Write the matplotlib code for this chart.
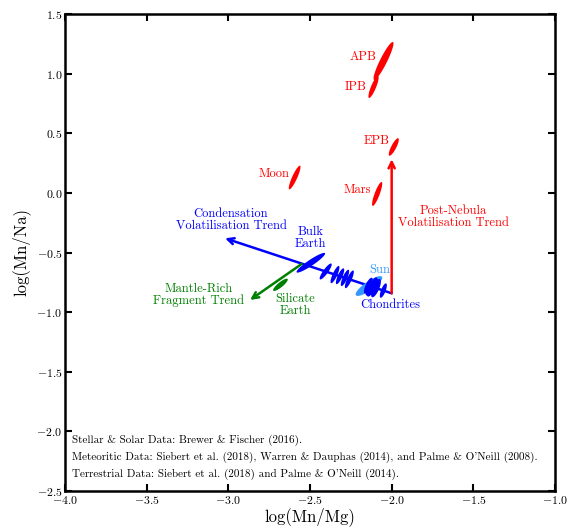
import numpy as np
import matplotlib
matplotlib.use("Agg")
import matplotlib.pyplot as plt

plt.rcParams['font.family'] = 'serif'
plt.rcParams['font.serif'] = ['cmr10']
plt.rcParams['mathtext.fontset'] = 'cm'
plt.rcParams['axes.formatter.use_mathtext'] = True
plt.rcParams['axes.unicode_minus'] = True

# ---- data ----
# red bodies: name, centre x, centre y, half-major dx, dy (data units)
red_names = ['APB', 'IPB', 'EPB', 'Moon', 'Mars']
red_x = [-2.050, -2.111, -1.987, -2.594, -2.089]
red_y = [1.106, 0.888, 0.385, 0.129, -0.009]
red_dx = [0.058, 0.028, 0.0276, 0.033, 0.0276]
red_dy = [0.159, 0.092, 0.073, 0.099, 0.100]
red_hw = [3.5, 2.5, 2.5, 2.5, 2.5]
red_lab_x = [-2.175, -2.218, -2.090, -2.720, -2.212]
red_lab_y = [1.139, 0.888, 0.435, 0.158, 0.024]

# stellar / chondrite ellipses (blue)
star_x = [-2.404, -2.347, -2.316, -2.286, -2.259, -2.143, -2.119, -2.096, -2.051, -2.125, -2.110]
star_y = [-0.659, -0.685, -0.699, -0.713, -0.725, -0.778, -0.789, -0.799, -0.819, -0.800, -0.790]
star_dx = [0.035, 0.024, 0.022, 0.022, 0.024, 0.022, 0.027, 0.024, 0.017, 0.030, 0.028]
star_dy = [0.066, 0.072, 0.066, 0.068, 0.074, 0.066, 0.080, 0.076, 0.060, 0.060, 0.065]
star_hw = [2.4, 2.3, 2.3, 2.3, 2.3, 2.7, 3.2, 3.2, 2.3, 3.5, 3.2]

# Bulk Earth
bulk_x, bulk_y, bulk_dx, bulk_dy, bulk_hw = -2.495, -0.586, 0.087, 0.080, 3.0
# Sun
sun_x, sun_y, sun_dx, sun_dy, sun_hw = -2.139, -0.781, 0.080, 0.077, 4.5
# Silicate Earth
sil_x, sil_y, sil_dx, sil_dy, sil_hw = -2.681, -0.771, 0.044, 0.049, 2.5

# trends
chond = (-2.0, -0.842)
cond_tip = (-3.02, -0.381)
post_tip = (-2.0, 0.282)
mantle_start = (-2.551, -0.596)
mantle_tip = (-2.867, -0.898)

red = '#ff0000'
blue = '#0000ff'
green = '#008000'
sunblue = '#3399ff'

fig = plt.figure(figsize=(5.70, 5.27), dpi=100)
ax = fig.add_axes([65/570, 1-491/527, 490/570, 477/527])
ax.set_xlim(-4, -1)
ax.set_ylim(-2.5, 1.5)


def ellipse(cx, cy, dx, dy, hw, color, z=3):
    tr = ax.transData
    c = tr.transform((cx, cy))
    e = tr.transform((cx + dx, cy + dy))
    u = e - c
    n = np.array([-u[1], u[0]]) / np.hypot(*u) * hw
    t = np.linspace(0, 2*np.pi, 100)
    pts = c + np.outer(np.cos(t), u) + np.outer(np.sin(t), n)
    dpts = tr.inverted().transform(pts)
    ax.fill(dpts[:, 0], dpts[:, 1], color=color, lw=0, zorder=z)


# arrows
ap = dict(arrowstyle='->,head_length=0.45,head_width=0.22', lw=1.8,
          shrinkA=0, shrinkB=0)
ax.annotate('', xy=cond_tip, xytext=chond, arrowprops=dict(ap, color=blue), zorder=2)
ax.annotate('', xy=post_tip, xytext=chond, arrowprops=dict(ap, color=red), zorder=2)
ax.annotate('', xy=mantle_tip, xytext=mantle_start, arrowprops=dict(ap, color=green), zorder=2)

for i in range(len(red_names)):
    ellipse(red_x[i], red_y[i], red_dx[i], red_dy[i], red_hw[i], red)
    ax.text(red_lab_x[i], red_lab_y[i], red_names[i], color=red, fontsize=9,
            ha='center', va='center')

ellipse(sun_x, sun_y, sun_dx, sun_dy, sun_hw, sunblue, z=3)
for i in range(len(star_x)):
    ellipse(star_x[i], star_y[i], star_dx[i], star_dy[i], star_hw[i], blue, z=4)
ellipse(bulk_x, bulk_y, bulk_dx, bulk_dy, bulk_hw, blue, z=4)
ellipse(sil_x, sil_y, sil_dx, sil_dy, sil_hw, green, z=4)

fs = 9
ax.text(-1.624, -0.202, 'Post-Nebula\nVolatilisation Trend', color=red, fontsize=fs,
        ha='center', va='center', linespacing=1.0)
ax.text(-2.984, -0.227, 'Condensation\nVolatilisation Trend', color=blue, fontsize=fs,
        ha='center', va='center', linespacing=1.0)
ax.text(-2.5, -0.378, 'Bulk\nEarth', color=blue, fontsize=fs, ha='center', va='center',
        linespacing=1.0)
ax.text(-2.075, -0.647, 'Sun', color=sunblue, fontsize=fs, ha='center', va='center')
ax.text(-2.010, -0.940, 'Chondrites', color=blue, fontsize=fs, ha='center', va='center')
ax.text(-2.592, -0.940, 'Silicate\nEarth', color=green, fontsize=fs, ha='center',
        va='center', linespacing=1.0)
ax.text(-3.180, -0.856, 'Mantle-Rich\nFragment Trend', color=green, fontsize=fs,
        ha='center', va='center', linespacing=1.0)

foot = ['Stellar & Solar Data: Brewer & Fischer (2016).',
        "Meteoritic Data: Siebert et al. (2018), Warren & Dauphas (2014), and Palme & O'Neill (2008).",
        "Terrestrial Data: Siebert et al. (2018) and Palme & O'Neill (2014)."]
for k, s in enumerate(foot):
    ax.text(0.014, 0.107 - 0.0357*k, s, transform=ax.transAxes, fontsize=8.0,
            ha='left', va='center')

ax.set_xticks(np.arange(-4, -0.99, 0.5))
ax.set_yticks(np.arange(-2.5, 1.51, 0.5))
ax.tick_params(direction='in', top=True, right=True, length=5, width=1.5,
               labelsize=8.5, pad=2)
for sp in ax.spines.values():
    sp.set_linewidth(1.8)
ax.set_xlabel('log(Mn/Mg)', fontsize=12, labelpad=1)
ax.set_ylabel('log(Mn/Na)', fontsize=12, labelpad=4)

fig.savefig('out.png', dpi=100)
